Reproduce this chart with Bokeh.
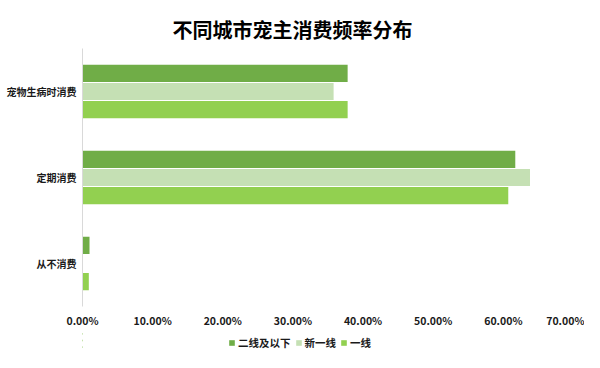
from bokeh.plotting import figure
from bokeh.models import ColumnDataSource, FactorRange, Range1d, NumeralTickFormatter, Legend, LegendItem, FixedTicker
from bokeh.layouts import column
from bokeh.transform import dodge
from bokeh.embed import file_html
from bokeh.resources import INLINE

categories = ["宠物生病时消费", "定期消费", "从不消费"]
series_names = ["二线及以下", "新一线", "一线"]
tier2_below = [0.378, 0.617, 0.010]
new_tier1 = [0.358, 0.638, 0.0]
tier1 = [0.378, 0.607, 0.009]
colors = ["#70AD47", "#C5E0B4", "#92D050"]
x_ticks = [0.0, 0.1, 0.2, 0.3, 0.4, 0.5, 0.6, 0.7]

FONT = "Noto Sans CJK SC"

source = ColumnDataSource(dict(cat=categories, s0=tier2_below, s1=new_tier1, s2=tier1))

p = figure(width=584, height=330, output_backend="svg", toolbar_location=None,
           y_range=FactorRange(factors=list(reversed(categories))), x_range=Range1d(0, 0.7),
           min_border_left=82, min_border_right=11, min_border_top=48, min_border_bottom=19)

p.title.text = "不同城市宠主消费频率分布"
p.title.text_font = FONT
p.title.text_font_size = "20px"
p.title.text_font_style = "bold"
p.title.text_color = "#000000"
p.title.align = "left"
p.title.offset = 90
p.title.standoff = 9

offsets = [0.21, 0.0, -0.21]
for i, key in enumerate(["s0", "s1", "s2"]):
    p.hbar(y=dodge("cat", offsets[i], range=p.y_range), right=key, left=0, height=0.2,
           source=source, color=colors[i], line_color=None)

p.xaxis.ticker = FixedTicker(ticks=x_ticks)
p.xaxis.formatter = NumeralTickFormatter(format="0.00%")
p.xaxis.axis_line_color = None
p.xaxis.major_tick_line_color = None
p.xaxis.minor_tick_line_color = None
p.xaxis.major_tick_out = 0
p.xaxis.major_tick_in = 0
p.xaxis.minor_tick_out = 0
p.xaxis.major_label_text_font = FONT
p.xaxis.major_label_text_font_size = "10.5px"
p.xaxis.major_label_text_font_style = "bold"
p.xaxis.major_label_text_color = "#1a1a1a"
p.xaxis.major_label_standoff = 6

p.yaxis.axis_line_color = "#D9D9D9"
p.yaxis.major_tick_line_color = None
p.yaxis.minor_tick_line_color = None
p.yaxis.major_tick_out = 0
p.yaxis.major_tick_in = 0
p.yaxis.minor_tick_out = 0
p.yaxis.major_label_text_font = FONT
p.yaxis.major_label_text_font_size = "10px"
p.yaxis.major_label_text_font_style = "bold"
p.yaxis.major_label_text_color = "#1a1a1a"
p.yaxis.major_label_standoff = 6

p.xgrid.grid_line_color = None
p.ygrid.grid_line_color = None
p.outline_line_color = None

# legend strip (its bars sit outside its visible x range; only the legend shows)
p2 = figure(width=584, height=20, output_backend="svg", toolbar_location=None,
            x_range=Range1d(10, 11), y_range=FactorRange(factors=list(categories)),
            x_axis_type=None, y_axis_type=None, min_border=0)
p2.xgrid.grid_line_color = None
p2.ygrid.grid_line_color = None
p2.outline_line_color = None
leg_renderers = [p2.hbar(y="cat", right=key, left=0, height=0.2, source=source, color=c, line_color=None)
                 for key, c in zip(["s0", "s1", "s2"], colors)]
legend = Legend(items=[LegendItem(label=n, renderers=[r]) for n, r in zip(series_names, leg_renderers)],
                orientation="horizontal", location=(146, 0),
                label_text_font=FONT, label_text_font_size="10.5px", label_text_font_style="bold",
                label_text_color="#1a1a1a", glyph_width=7, glyph_height=7, spacing=4,
                label_standoff=3, padding=0, margin=0, border_line_color=None,
                background_fill_alpha=0)
p2.add_layout(legend, "center")

layout = column(p, p2, spacing=0)
open("out.html", "w").write(file_html(layout, INLINE))
